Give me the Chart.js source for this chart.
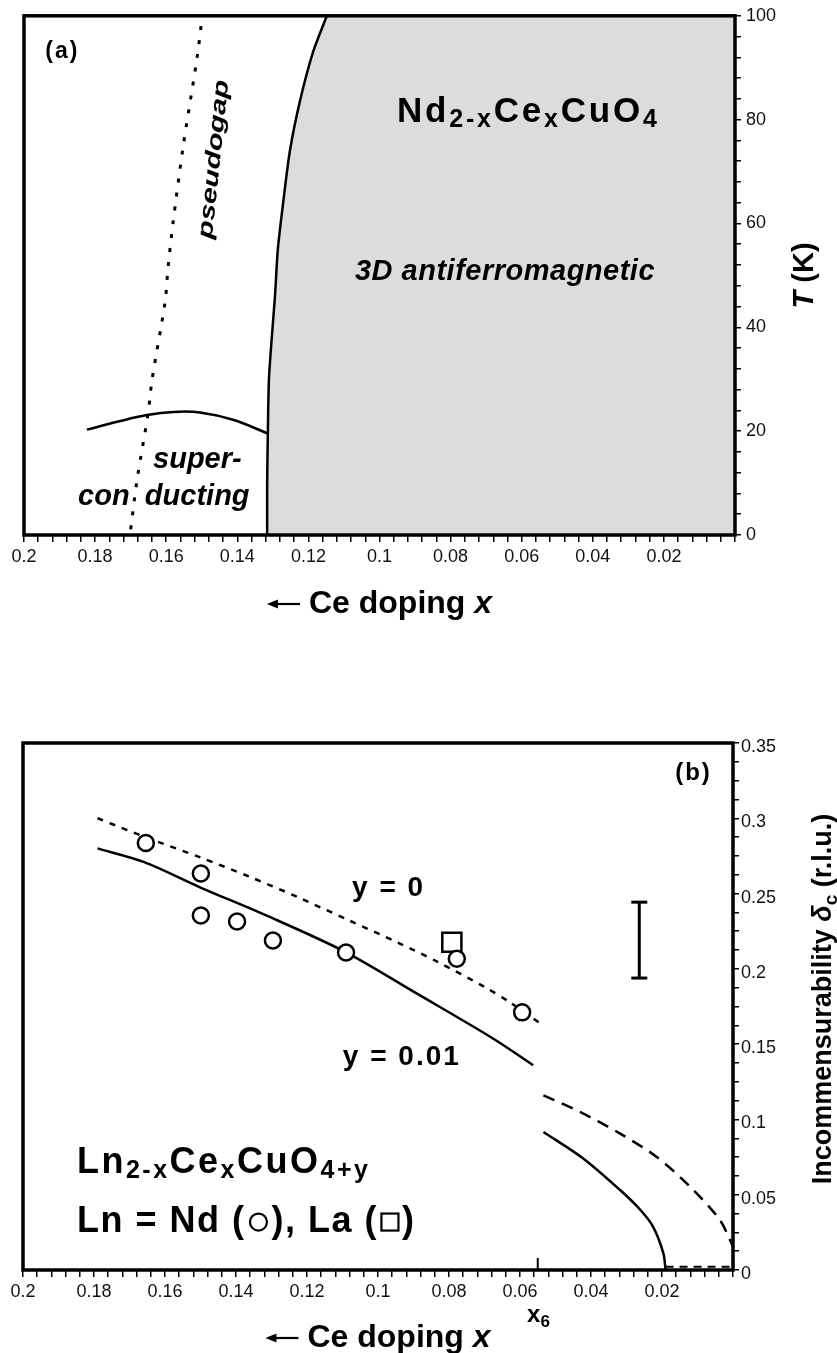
<!DOCTYPE html>
<html>
<head>
<meta charset="utf-8">
<script src="https://cdn.jsdelivr.net/npm/chart.js@4.4.1/dist/chart.umd.min.js"></script>
<style>
  html, body { margin: 0; padding: 0; background: #fff; }
  .panel { position: absolute; left: 0; width: 837px; }
</style>
</head>
<body>
<div class="panel" style="top:0;height:650px"><canvas id="chartA"></canvas></div>
<div class="panel" style="top:650px;height:703px"><canvas id="chartB"></canvas></div>
<script>
// ---- Data: panel (a), Nd2-xCexCuO4 phase diagram ----
const afmX = [0.1148, 0.1187, 0.1224, 0.1252, 0.1271, 0.1286, 0.1294, 0.1303, 0.1311, 0.1314, 0.1316, 0.1316];
const afmT = [100, 93, 83.5, 74, 64, 55, 46, 38, 30, 20, 10, 0];
const pgX = [0.1502, 0.1513, 0.1553, 0.1581, 0.1595, 0.1603, 0.164, 0.1651, 0.1682, 0.1702];
const pgT = [98, 92, 74.5, 60, 51.4, 45, 29.8, 23.4, 10.6, 0];
const scX = [0.1823, 0.1738, 0.1654, 0.1580, 0.1505, 0.1412, 0.1316];
const scT = [20.3, 21.8, 23.1, 23.7, 23.6, 22.2, 19.6];

// ---- Data: panel (b), incommensurability ----
const y0aX = [0.179, 0.165, 0.150, 0.136, 0.122, 0.108, 0.094, 0.0835, 0.070, 0.063, 0.0535];
const y0aD = [0.300, 0.287, 0.274, 0.261, 0.247, 0.232, 0.217, 0.205, 0.188, 0.178, 0.1625];
const y01aX = [0.179, 0.166, 0.150, 0.131, 0.109, 0.089, 0.0675, 0.0563];
const y01aD = [0.280, 0.271, 0.254, 0.235, 0.211, 0.1835, 0.1536, 0.136];
const y0bX = [0.0534, 0.0431, 0.0318, 0.0215, 0.0121, 0.0037, 0];
const y0bD = [0.116, 0.105, 0.0906, 0.0751, 0.0553, 0.0332, 0.0155];
const y01bX = [0.0534, 0.0422, 0.0318, 0.0262, 0.0225, 0.0196, 0.019];
const y01bD = [0.0917, 0.0741, 0.0531, 0.0402, 0.0287, 0.0111, 0];
const tailX = [0.019, 0];
const tailD = [0.0022, 0.0022];
const ndX = [0.1654, 0.1499, 0.1499, 0.1397, 0.1296, 0.109, 0.0778, 0.0594];
const ndD = [0.2836, 0.2633, 0.2354, 0.2314, 0.2188, 0.2109, 0.2067, 0.1711];
const laX = [0.0792];
const laD = [0.2177];
const errX = [0.0264, 0.0264];
const errD = [0.1939, 0.2443];
const x6X = [0.055, 0.055];
const x6D = [0, 0.008];

// ---- Tick labels ----
const xLabelVals = [0.2, 0.18, 0.16, 0.14, 0.12, 0.1, 0.08, 0.06, 0.04, 0.02];
const tLabelVals = [0, 20, 40, 60, 80, 100];
const dLabelVals = [0, 0.05, 0.1, 0.15, 0.2, 0.25, 0.3, 0.35];

const F = '"Liberation Sans", Arial, Helvetica, sans-serif';
const B = s => `bold ${s}px ${F}`;
const BI = s => `italic bold ${s}px ${F}`;

const pts = (xs, ys) => xs.map((x, i) => ({ x, y: ys[i] }));
const line = (data, extra) => Object.assign({
  data, showLine: true, pointRadius: 0, borderColor: '#000',
  borderWidth: 2.5, fill: false, tension: 0
}, extra);
const pick = vals => v => {
  const hit = vals.find(t => Math.abs(t - v) < 1e-6);
  return hit === undefined ? '' : String(+hit.toFixed(3));
};

function xAxis(height) {
  return {
    type: 'linear', min: 0, max: 0.2, reverse: true,
    afterFit: s => { s.height = height; },
    grid: { drawOnChartArea: false, color: '#000', lineWidth: 1.5, tickLength: 7 },
    border: { display: false },
    ticks: {
      stepSize: 0.004, autoSkip: false, maxRotation: 0, minRotation: 0, padding: 4,
      color: '#111', font: { family: F, size: 18 },
      callback: pick(xLabelVals)
    }
  };
}
function yAxis(max, step, vals, width, offset, pad) {
  return {
    type: 'linear', position: 'right', min: 0, max,
    afterFit: s => { s.width = width; },
    grid: { drawOnChartArea: false, color: '#000', lineWidth: 1.5, tickLength: 6 },
    border: { display: false },
    ticks: {
      stepSize: step, autoSkip: false, padding: pad, labelOffset: offset,
      color: '#111', font: { family: F, size: 18 },
      callback: pick(vals)
    }
  };
}

// ---- Frame + text labels (positions given in data units) ----
function widthOf(ctx, parts) {
  let w = 0;
  parts.forEach(p => {
    if (p.shape) w += p.w;
    else { ctx.font = p.f; w += ctx.measureText(p.t).width; }
  });
  return w;
}
function labelPlugin(labels) {
  return {
    id: 'labels',
    afterDatasetsDraw(chart) {
      const { ctx, chartArea: a, scales } = chart;
      ctx.save();
      ctx.strokeStyle = '#000';
      ctx.lineWidth = 3.5;
      ctx.strokeRect(a.left, a.top, a.right - a.left, a.bottom - a.top);
      ctx.fillStyle = '#000';
      ctx.textBaseline = 'alphabetic';
      ctx.textAlign = 'left';
      labels.forEach(l => {
        const px = l.x !== undefined ? scales.x.getPixelForValue(l.x) : a.right + l.dx;
        const py = l.y !== undefined ? scales.y.getPixelForValue(l.y) : a.bottom + l.dy;
        ctx.save();
        ctx.translate(px, py);
        if (l.rot) ctx.rotate(l.rot * Math.PI / 180);
        if (l.sx) ctx.scale(l.sx, 1);
        ctx.letterSpacing = (l.ls || 0) + 'px';
        let cx = l.align === 'center' ? -widthOf(ctx, l.parts) / 2 : 0;
        const by = l.bs || 0;
        l.parts.forEach(p => {
          ctx.lineWidth = 2.2;
          if (p.shape === 'circle') {
            ctx.beginPath();
            ctx.arc(cx + p.w / 2, by - p.up, p.r, 0, Math.PI * 2);
            ctx.stroke();
          } else if (p.shape === 'square') {
            ctx.strokeRect(cx + (p.w - p.s) / 2, by - p.up - p.s / 2, p.s, p.s);
          } else if (p.shape === 'arrow') {
            const ay = by - p.up;
            ctx.beginPath();
            ctx.moveTo(cx + p.len, ay);
            ctx.lineTo(cx + 6, ay);
            ctx.stroke();
            ctx.beginPath();
            ctx.moveTo(cx, ay);
            ctx.lineTo(cx + 11, ay - 4.5);
            ctx.lineTo(cx + 11, ay + 4.5);
            ctx.closePath();
            ctx.fill();
          } else {
            ctx.font = p.f;
            ctx.fillText(p.t, cx, by + (p.dy || 0));
            cx += ctx.measureText(p.t).width;
            return;
          }
          cx += p.w;
        });
        ctx.restore();
      });
      ctx.restore();
    }
  };
}

const xTitle = [{ shape: 'arrow', w: 42, len: 33, up: 9 }, { t: 'Ce doping ', f: B(32) }, { t: 'x', f: BI(32) }];

const labelsA = [
  { x: 0.194, y: 91.9, ls: 2, parts: [{ t: '(a)', f: B(23) }] },
  { x: 0.0951, y: 79.6, ls: 2.8, parts: [
    { t: 'Nd', f: B(35) }, { t: '2-x', f: B(25), dy: 5 }, { t: 'Ce', f: B(35) },
    { t: 'x', f: B(25), dy: 5 }, { t: 'CuO', f: B(35) }, { t: '4', f: B(25), dy: 5 }] },
  { x: 0.1069, y: 49.1, ls: 0.5, parts: [{ t: '3D antiferromagnetic', f: BI(29) }] },
  { x: 0.1468, y: 72.4, rot: -84, sx: 1.36, align: 'center', bs: 7, parts: [{ t: 'pseudogap', f: BI(22) }] },
  { x: 0.1637, y: 12.9, parts: [{ t: 'super-', f: BI(29) }] },
  { x: 0.1848, y: 5.76, parts: [{ t: 'con', f: BI(29) }] },
  { x: 0.166, y: 5.76, parts: [{ t: 'ducting', f: BI(29) }] },
  { x: 0.1, dy: 78, align: 'center', parts: xTitle },
  { dx: 68, y: 50, rot: -90, align: 'center', bs: 10, parts: [{ t: 'T', f: BI(29) }, { t: ' (K)', f: B(29) }] }
];

const labelsB = [
  { x: 0.0163, y: 0.3256, ls: 2, parts: [{ t: '(b)', f: B(24) }] },
  { x: 0.1073, y: 0.2487, ls: 2, parts: [{ t: 'y = 0', f: B(28) }] },
  { x: 0.1099, y: 0.136, ls: 2, parts: [{ t: 'y = 0.01', f: B(28) }] },
  { x: 0.1848, y: 0.0643, ls: 2.5, parts: [
    { t: 'Ln', f: B(36) }, { t: '2-x', f: B(25), dy: 5 }, { t: 'Ce', f: B(36) },
    { t: 'x', f: B(25), dy: 5 }, { t: 'CuO', f: B(36) }, { t: '4+y', f: B(25), dy: 5 }] },
  { x: 0.1848, y: 0.0252, ls: 1.5, parts: [
    { t: 'Ln = Nd (', f: B(36) }, { shape: 'circle', w: 26, r: 8.5, up: 10 },
    { t: '), La (', f: B(36) }, { shape: 'square', w: 24, s: 17, up: 10 }, { t: ')', f: B(36) }] },
  { x: 0.058, dy: 52, parts: [{ t: 'x', f: B(24) }, { t: '6', f: B(17), dy: 5 }] },
  { x: 0.1, dy: 77, align: 'center', parts: xTitle },
  { dx: 88, y: 0.18, rot: -90, align: 'center', bs: 10, parts: [
    { t: 'Incommensurability ', f: B(27) }, { t: '\u03b4', f: BI(27) },
    { t: 'c', f: B(19), dy: 6 }, { t: ' (r.l.u.)', f: B(27) }] }
];

const common = {
  responsive: true, maintainAspectRatio: false, animation: false, events: [],
  plugins: { legend: { display: false }, tooltip: { enabled: false } }
};

// ---- Panel (a) ----
new Chart(document.getElementById('chartA'), {
  type: 'scatter',
  data: {
    datasets: [
      line(pts(scX, scT), { tension: 0.4 }),
      line(pts(pgX, pgT), { borderDash: [4, 10], borderWidth: 3, tension: 0.3 }),
      line(pts(afmX, afmT), { tension: 0.25 }),
      line([{ x: 0, y: 100 }].concat(pts(afmX, afmT)), {
        borderWidth: 0, fill: 'origin', backgroundColor: '#dcdcdc'
      })
    ]
  },
  options: Object.assign({}, common, {
    layout: { padding: { left: 24, top: 14, right: 0, bottom: 0 } },
    scales: { x: xAxis(115), y: yAxis(100, 4, tLabelVals, 102, 0, 5) }
  }),
  plugins: [labelPlugin(labelsA)]
});

// ---- Panel (b) ----
new Chart(document.getElementById('chartB'), {
  type: 'scatter',
  data: {
    datasets: [
      { data: pts(ndX, ndD), pointStyle: 'circle', pointRadius: 8, borderWidth: 2.5,
        borderColor: '#000', backgroundColor: '#fff' },
      { data: pts(laX, laD), pointStyle: 'rect', pointRadius: 13.5, borderWidth: 2.5,
        borderColor: '#000', backgroundColor: '#fff' },
      line(pts(errX, errD), { borderWidth: 3, pointStyle: 'line', pointRadius: 8,
        pointBorderWidth: 3, pointBorderColor: '#000' }),
      line(pts(x6X, x6D), { borderWidth: 2 }),
      line(pts(y0aX, y0aD), { borderDash: [6, 7], tension: 0.3 }),
      line(pts(y01aX, y01aD), { tension: 0.3 }),
      line(pts(y0bX, y0bD), { borderDash: [12, 8], tension: 0.3 }),
      line(pts(y01bX, y01bD), { tension: 0.3 }),
      line(pts(tailX, tailD), { borderDash: [8, 6], borderWidth: 2 })
    ]
  },
  options: Object.assign({}, common, {
    layout: { padding: { left: 23, top: 93, right: 0, bottom: 0 } },
    scales: { x: xAxis(83), y: yAxis(0.35, 0.0125, dLabelVals, 104, 4, 2) }
  }),
  plugins: [labelPlugin(labelsB)]
});
</script>
</body>
</html>
